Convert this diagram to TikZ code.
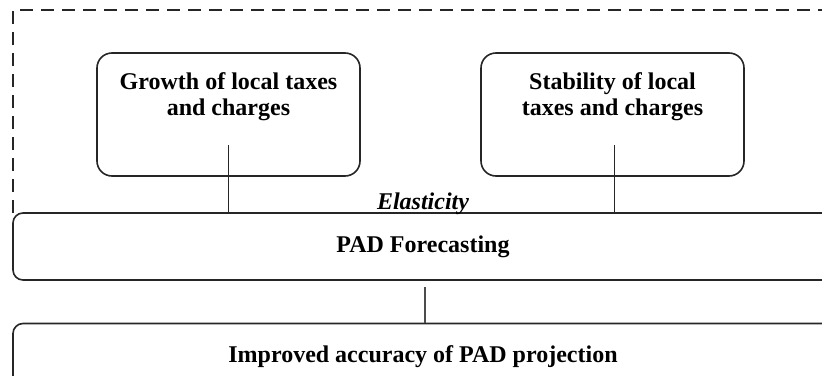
\documentclass[tikz,border=0pt]{standalone}
\usepackage{fontspec}
\setmainfont{Liberation Serif}
\usetikzlibrary{positioning}

\tikzset{
  topbox/.style={draw=black!85,line width=1.6pt,rounded corners=15pt,minimum width=263pt,minimum height=123pt,inner sep=0pt},
  widebox/.style={draw=black!85,line width=1.6pt,rounded corners=10pt,minimum width=820pt,minimum height=67pt},
  boxtext/.style={align=center,inner sep=0pt,anchor=north},
  link/.style={draw=black!85,line width=0.9pt}
}

\begin{document}
\begin{tikzpicture}[x=1pt,y=-1pt,font=\fontsize{24}{26}\selectfont\bfseries]
			\useasboundingbox (0,0) rectangle (822,375);
			\clip (0,0) rectangle (822,375);
			% dashed frame round the two factors
			\coordinate (frameleft) at (13,213);
			\coordinate (framecorner) at (13,10);
			\coordinate (frameright) at (840,10);
			\draw[black!85,line width=1.6pt,dash pattern=on 13pt off 8pt] (frameleft)--(framecorner)--(frameright);
			% the two factors
			\node[topbox] (growth) at (228.5,114.5) {};
			\node[topbox] (stab) at (612.5,114.5) {};
			\node[boxtext,below=20pt of growth.north] (growthtxt) {Growth of local taxes\\and charges};
			\node[boxtext,below=20pt of stab.north] (stabtxt) {Stability of local\\taxes and charges};
			% forecasting and result
			\node[widebox] (pad) at (423,246.5) {PAD Forecasting};
			\node[widebox] (proj) at (423,357) {\raisebox{3pt}{Improved accuracy of PAD projection}};
			\node[anchor=base,inner sep=0pt] (elast) at (423,209) {\itshape Elasticity};
			\coordinate (growthend) at (228,145);
			\coordinate (stabend) at (614,145);
			\draw[link](growthend)--(growthend |- pad.north);
			\draw[link](stabend)--(stabend |- pad.north);
			\draw[black!70,line width=2.4pt,shorten <=6pt]([xshift=2pt]pad.south)--([xshift=2pt]proj.north);
		\end{tikzpicture}
\end{document}
